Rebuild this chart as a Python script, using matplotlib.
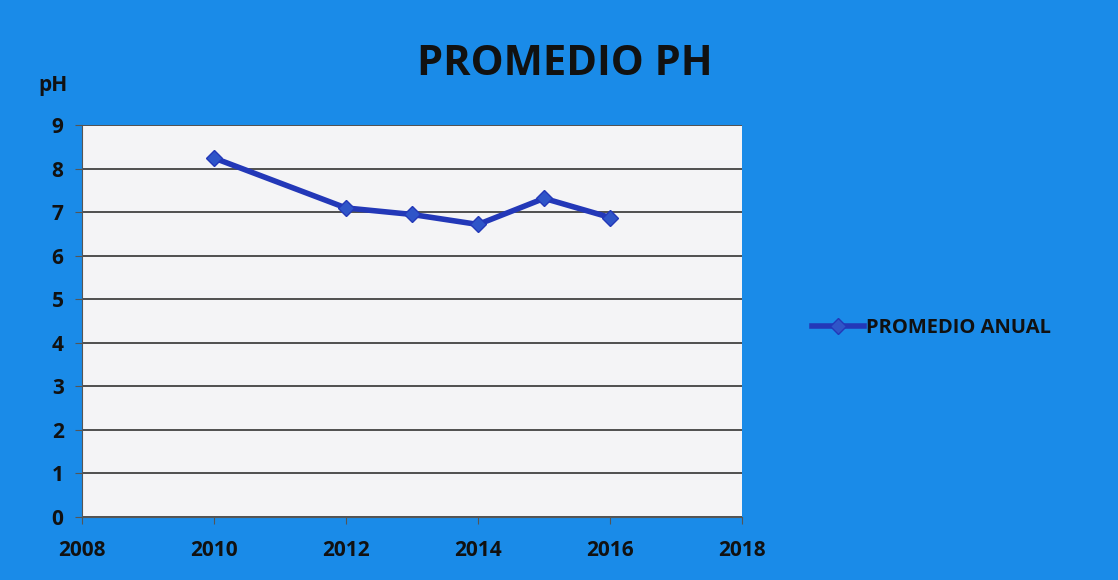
import matplotlib.pyplot as plt

# annual pH averages
years = [2010, 2012, 2013, 2014, 2015, 2016]
ph_values = [8.25, 7.1, 6.95, 6.72, 7.32, 6.88]
series_label = "PROMEDIO ANUAL"
chart_title = "PROMEDIO PH"

BG = "#1a8be8"
LINE = "#2338b8"

plt.rcParams['font.family'] = ['Open Sans', 'DejaVu Sans']

fig = plt.figure(figsize=(11.18, 5.8), dpi=100)
fig.patch.set_facecolor(BG)

ax = fig.add_axes([0.073, 0.109, 0.591, 0.675])
ax.set_facecolor("#f4f4f6")

ax.plot(years, ph_values, color=LINE, linewidth=4, marker="D",
        markersize=8, markerfacecolor="#2f55c8", markeredgecolor=LINE,
        label=series_label)

ax.set_xlim(2008, 2018)
ax.set_ylim(0, 9)
ax.set_xticks(range(2008, 2019, 2))
ax.set_yticks(range(0, 10))
ax.grid(axis="y", color="#333333", linewidth=1.2)
ax.set_axisbelow(True)

for side in ["top", "right"]:
    ax.spines[side].set_visible(False)
ax.spines["left"].set_color("#555555")
ax.spines["bottom"].set_color("#555555")

ax.tick_params(axis="both", labelsize=15, colors="#555555", labelcolor="#111111")
ax.tick_params(axis="x", pad=12, length=5)
ax.tick_params(axis="y", pad=8, length=5)
for lbl in ax.get_xticklabels() + ax.get_yticklabels():
    lbl.set_fontweight("bold")

fig.text(0.505, 0.888, chart_title, ha="center", va="center",
         fontsize=30, fontweight="bold", color="#111111")
fig.text(0.047, 0.853, "pH", ha="center", va="center",
         fontsize=15, fontweight="bold", color="#111111")

leg = fig.legend(loc="center left", bbox_to_anchor=(0.71, 0.435),
                 frameon=False, fontsize=14.5, handlelength=2.6,
                 handletextpad=0.1)
for t in leg.get_texts():
    t.set_fontweight("bold")
    t.set_color("#111111")

fig.savefig("out.png", dpi=100, facecolor=BG)
